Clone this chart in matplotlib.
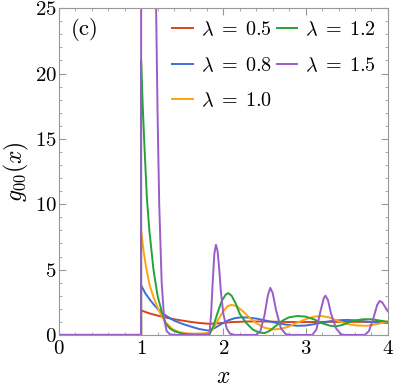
import matplotlib
matplotlib.use('Agg')
import matplotlib.pyplot as plt
from matplotlib.ticker import MultipleLocator

plt.rcParams['font.family'] = 'serif'
plt.rcParams['font.serif'] = ['cmr10']
plt.rcParams['mathtext.fontset'] = 'cm'
plt.rcParams['axes.formatter.use_mathtext'] = True

# lambda = 0.5
x_05 = [0, 1.0, 1.0, 1.1, 1.2, 1.3, 1.4, 1.5, 1.6, 1.7, 1.83, 1.95, 2.1, 2.3, 2.5, 2.7, 2.9, 3.1, 3.3, 3.5, 3.7, 4.0]
g_05 = [0, 0, 1.88, 1.65, 1.48, 1.33, 1.2, 1.1, 1.0, 0.92, 0.85, 0.9, 0.98, 1.03, 1.03, 1.0, 0.98, 0.99, 1.0, 1.0, 1.0, 1.0]

# lambda = 0.8
x_08 = [0, 1.0, 1.0, 1.05, 1.10, 1.15, 1.20, 1.25, 1.32, 1.40, 1.50, 1.60, 1.70, 1.78, 1.83, 1.90, 1.98, 2.06,
        2.14, 2.22, 2.30, 2.40, 2.50, 2.62, 2.75, 2.90, 3.00, 3.10, 3.20, 3.30, 3.40, 3.50, 3.60, 3.70, 3.80, 3.90, 4.00]
g_08 = [0, 0, 3.8, 3.2, 2.75, 2.35, 2.0, 1.7, 1.4, 1.1, 0.85, 0.65, 0.46, 0.37, 0.33, 0.55, 0.85, 1.12,
        1.28, 1.35, 1.33, 1.25, 1.12, 0.95, 0.8, 0.7, 0.72, 0.82, 0.95, 1.05, 1.12, 1.15, 1.12, 1.05, 0.98, 0.93, 0.92]

# lambda = 1.0
x_10 = [0, 1.0, 1.0, 1.03, 1.06, 1.10, 1.15, 1.20, 1.25, 1.30, 1.38, 1.46, 1.55, 1.65, 1.75, 1.83, 1.88, 1.94,
        2.00, 2.05, 2.10, 2.16, 2.24, 2.32, 2.40, 2.50, 2.60, 2.68, 2.78, 2.90, 3.00, 3.10, 3.19, 3.28, 3.38, 3.50,
        3.62, 3.74, 3.85, 3.95, 4.00]
g_10 = [0, 0, 8.0, 6.4, 5.2, 3.9, 2.9, 2.1, 1.45, 0.95, 0.45, 0.22, 0.12, 0.1, 0.12, 0.15, 0.55, 1.2,
        1.8, 2.2, 2.3, 2.2, 1.8, 1.3, 0.9, 0.55, 0.42, 0.45, 0.6, 0.95, 1.2, 1.4, 1.45, 1.35, 1.1, 0.85,
        0.72, 0.7, 0.8, 0.95, 1.0]

# lambda = 1.2
x_12 = [0, 1.0, 1.0, 1.02, 1.04, 1.07, 1.10, 1.15, 1.20, 1.25, 1.30, 1.35, 1.40, 1.50, 1.60, 1.70, 1.83, 1.88,
        1.93, 1.98, 2.03, 2.06, 2.10, 2.15, 2.20, 2.28, 2.36, 2.44, 2.50, 2.56, 2.64, 2.72, 2.80, 2.90, 3.00,
        3.10, 3.20, 3.30, 3.36, 3.44, 3.52, 3.60, 3.70, 3.80, 3.90, 4.00]
g_12 = [0, 0, 21, 17.5, 14.5, 10.5, 8.0, 5.0, 3.0, 1.8, 0.85, 0.5, 0.3, 0.1, 0.03, 0.02, 0.03, 0.7,
        1.7, 2.6, 3.1, 3.2, 3.0, 2.4, 1.6, 0.9, 0.4, 0.18, 0.14, 0.3, 0.7, 1.1, 1.35, 1.45, 1.4,
        1.2, 0.9, 0.7, 0.65, 0.75, 0.95, 1.1, 1.2, 1.2, 1.1, 1.0]

# lambda = 1.5
x_15 = [0, 1.0, 1.0, 1.05, 1.10, 1.15, 1.18, 1.20, 1.22, 1.25, 1.28, 1.31, 1.35, 1.40, 1.80, 1.83, 1.85, 1.87,
        1.89, 1.91, 1.93, 1.95, 1.97, 2.00, 2.04, 2.08, 2.14, 2.40, 2.45, 2.50, 2.54, 2.57, 2.60, 2.64, 2.70,
        2.76, 2.82, 3.08, 3.13, 3.18, 3.22, 3.24, 3.27, 3.31, 3.37, 3.43, 3.48, 3.72, 3.77, 3.82, 3.87, 3.90,
        3.93, 3.97, 4.00]
g_15 = [0, 0, 45, 60, 60, 40, 26, 17, 10, 4, 1.2, 0.3, 0.05, 0, 0, 0, 1.5, 4.0,
        6.2, 6.9, 6.4, 5.0, 3.3, 1.6, 0.5, 0.1, 0, 0, 0.3, 1.5, 3.0, 3.6, 3.2, 1.9, 0.5,
        0.05, 0, 0, 0.4, 1.8, 2.8, 3.0, 2.7, 1.6, 0.5, 0.05, 0, 0, 0.3, 1.2, 2.3, 2.6,
        2.5, 2.1, 1.8]

series = [
    (x_05, g_05, r'$\lambda\;=\;0.5$', '#D4461A'),
    (x_08, g_08, r'$\lambda\;=\;0.8$', '#3B6FD6'),
    (x_10, g_10, r'$\lambda\;=\;1.0$', '#FFA30F'),
    (x_12, g_12, r'$\lambda\;=\;1.2$', '#27A236'),
    (x_15, g_15, r'$\lambda\;=\;1.5$', '#9A5CCB'),
]

fig = plt.figure(figsize=(3.95, 3.89), dpi=100)
ax = fig.add_axes([0.149, 0.139, 0.833, 0.840])

for xs, gs, lab, col in series:
    ax.plot(xs, gs, color=col, lw=1.4, label=lab)

ax.set_xlim(0, 4)
ax.set_ylim(0, 25)
ax.xaxis.set_major_locator(MultipleLocator(1))
ax.xaxis.set_minor_locator(MultipleLocator(0.2))
ax.yaxis.set_major_locator(MultipleLocator(5))
ax.yaxis.set_minor_locator(MultipleLocator(1))
ax.tick_params(which='both', direction='in', top=True, right=True, colors='#999999',
               labelcolor='black', labelsize=15)
ax.tick_params(which='major', length=5, width=0.8)
ax.tick_params(which='minor', length=2.5, width=0.6)
ax.tick_params(axis='x', pad=4)
ax.tick_params(axis='y', pad=1.5)
for sp in ax.spines.values():
    sp.set_color('#999999')
    sp.set_linewidth(0.8)

ax.set_xlabel(r'$x$', fontsize=17, labelpad=5)
ax.set_ylabel(r'$g_{00}(x)$', fontsize=17, labelpad=3)
ax.text(0.15, 23.4, '(c)', fontsize=16.5, va='center', ha='left')

ax.legend(loc='upper left', bbox_to_anchor=(0.345, 0.962), ncol=2, frameon=False,
          fontsize=14.5, handlelength=1.0, handletextpad=0.4, columnspacing=0.25,
          labelspacing=0.85, borderpad=0, borderaxespad=0)

fig.savefig('out.png', dpi=100)
